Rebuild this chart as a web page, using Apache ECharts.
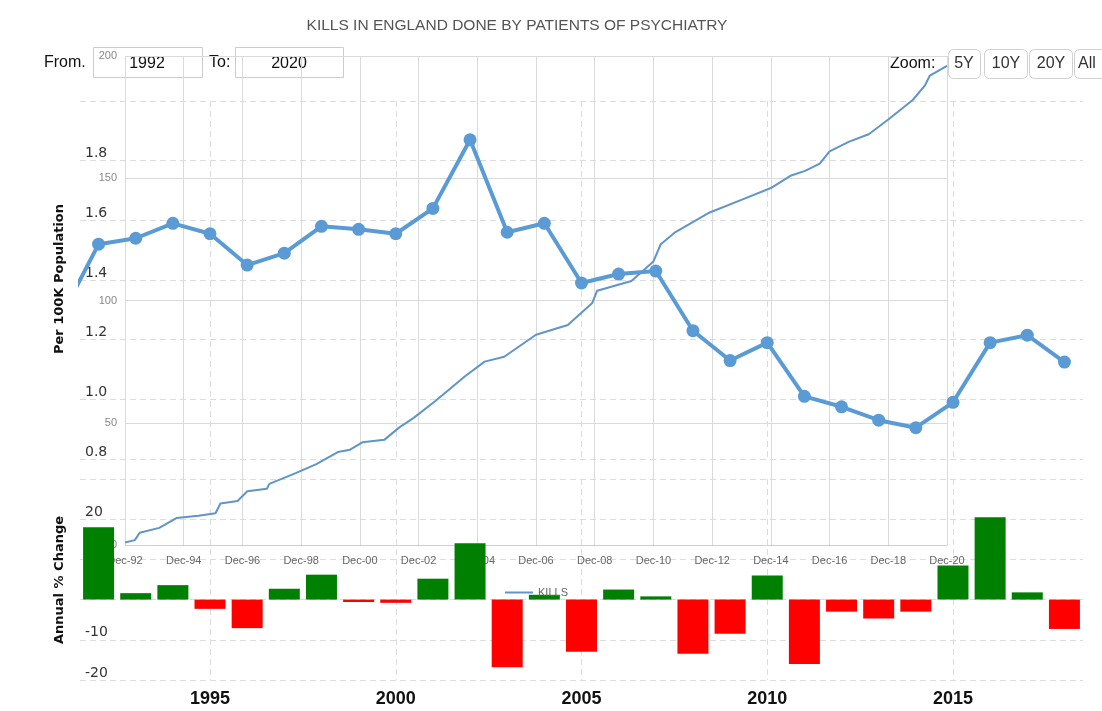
<!DOCTYPE html>
<html>
<head>
<meta charset="utf-8">
<script src="https://cdn.jsdelivr.net/npm/echarts@6/dist/echarts.min.js"></script>
<style>
html,body{margin:0;padding:0;background:#fff;}
#chart{width:1102px;height:711px;}
</style>
</head>
<body>
<div id="chart"></div>
<script>
// ---- Data ----
const rateYears = [1991,1992,1993,1994,1995,1996,1997,1998,1999,2000,2001,2002,2003,2004,2005,2006,2007,2008,2009,2010,2011,2012,2013,2014,2015,2016,2017,2018];
const per100k   = [1.28,1.52,1.54,1.59,1.555,1.45,1.49,1.58,1.57,1.555,1.64,1.87,1.56,1.59,1.39,1.42,1.43,1.23,1.13,1.19,1.01,0.975,0.93,0.905,0.99,1.19,1.215,1.125];

const changeYears  = [1992,1993,1994,1995,1996,1997,1998,1999,2000,2001,2002,2003,2004,2005,2006,2007,2008,2009,2010,2011,2012,2013,2014,2015,2016,2017,2018];
const annualChange = [18,1.6,3.6,-2.3,-7.1,2.7,6.2,-0.6,-0.8,5.2,14,-16.8,1.2,-13,2.5,0.8,-13.5,-8.5,6,-16,-3,-4.7,-3,8.5,20.5,1.8,-7.3];

const yearTicks = [1995,2000,2005,2010,2015];

const killDates  = ['1992-12','1993-04','1993-06','1994-02','1994-09','1995-06','1996-01','1996-03','1996-10','1997-02','1997-10','1997-11','1998-10','1999-06','2000-03','2000-08','2001-01','2001-10','2002-04','2002-10','2003-07','2004-07','2005-03','2005-11','2006-12','2008-01','2008-11','2009-01','2010-03','2010-12','2011-03','2011-09','2012-11','2014-02','2014-12','2015-08','2016-02','2016-08','2016-12','2017-08','2018-04','2018-12','2019-05','2019-10','2020-03','2020-05','2020-12'];
const killTotals = [1,2,5,7,11,12,13,17,18,22,23,25,29.5,33,38,39,42,43,48,52,59,69,75,77,86,90,99,104,108,116,123,128,136,142,146,151,153,156,161,165,168,174,178,182,188,192,196];

const decTickLabels = ['Dec-92','Dec-94','Dec-96','Dec-98','Dec-00','Dec-02','Dec-04','Dec-06','Dec-08','Dec-10','Dec-12','Dec-14','Dec-16','Dec-18','Dec-20'];

// months since Dec-1992
function monthIndex(d){ const p = d.split('-').map(Number); return (p[0]-1992)*12 + (p[1]-12); }

const rateData = rateYears.map((y,i)=>[y, per100k[i]]);
const barData = changeYears.map((y,i)=>({value:[y, annualChange[i]], itemStyle:{color: annualChange[i] >= 0 ? '#008000' : '#ff0000'}}));
const killData = killDates.map((d,i)=>[monthIndex(d), killTotals[i]]);

const dashed = {show:true, lineStyle:{color:'#dcdcdc', type:[6,4], width:1}};
const solid = {show:true, lineStyle:{color:'#dadada', type:'solid', width:1}};

const chart = echarts.init(document.getElementById('chart'), null, {renderer:'canvas'});
chart.setOption({
  animation:false,
  backgroundColor:'#fff',
  grid:[
    {left:80, right:19, top:101, height:358},
    {left:80, right:19, top:479, height:201},
    {left:125, width:822, top:56, height:489}
  ],
  xAxis:[
    {gridIndex:0, type:'value', min:1991.5, max:2018.5,
     axisLine:{show:false}, axisTick:{show:false, customValues:yearTicks},
     axisLabel:{show:false, customValues:yearTicks}, splitLine:dashed},
    {gridIndex:1, type:'value', min:1991.5, max:2018.5,
     axisLine:{show:false}, axisTick:{show:false, customValues:yearTicks},
     axisLabel:{customValues:yearTicks, color:'#111', fontSize:18, fontWeight:'bold', fontFamily:'Liberation Sans', margin:10,
       formatter:v=>String(v)},
     splitLine:dashed},
    {gridIndex:2, type:'value', min:0, max:336, interval:24,
     axisLine:{show:true, lineStyle:{color:'#cfcfcf'}}, axisTick:{show:false},
     axisLabel:{color:'#666', fontSize:11, fontFamily:'Liberation Sans', margin:10,
       formatter:v=>decTickLabels[Math.round(v/24)]},
     splitLine:solid}
  ],
  yAxis:[
    {gridIndex:0, type:'value', min:0.8, max:2.0, interval:0.2,
     axisLine:{show:false}, axisTick:{show:false},
     axisLabel:{inside:true, margin:5, showMaxLabel:false, verticalAlign:'bottom', color:'#333', fontSize:14, fontFamily:'DejaVu Sans',
       formatter:v=>v.toFixed(1)},
     splitLine:dashed},
    {gridIndex:1, type:'value', min:-20, max:30, interval:10,
     axisLine:{show:false}, axisTick:{show:false},
     axisLabel:{inside:true, margin:5, showMaxLabel:false, verticalAlign:'bottom', color:'#333', fontSize:14, fontFamily:'DejaVu Sans'},
     splitLine:dashed},
    {gridIndex:2, type:'value', min:0, max:200, interval:50,
     axisLine:{show:false}, axisTick:{show:false},
     axisLabel:{color:'#888', fontSize:11, fontFamily:'Liberation Sans', margin:8},
     splitLine:solid}
  ],
  legend:{data:[{name:'KILLS', icon:'rect'}], left:500, top:582, itemWidth:28, itemHeight:2, itemGap:6,
    textStyle:{color:'#666', fontSize:11, fontFamily:'Liberation Sans'}},
  series:[
    {name:'Annual % Change', type:'bar', xAxisIndex:1, yAxisIndex:1, barWidth:31, data:barData, z:2},
    {name:'KILLS', type:'line', xAxisIndex:2, yAxisIndex:2, data:killData, showSymbol:false, symbol:'none',
     lineStyle:{color:'#5f95c8', width:2}, itemStyle:{color:'#5f95c8'}, z:3},
    {name:'Per 100K', type:'line', xAxisIndex:0, yAxisIndex:0, data:rateData, symbol:'circle', symbolSize:13,
     lineStyle:{color:'#5b9bd5', width:4}, itemStyle:{color:'#5b9bd5'}, z:4}
  ],
  graphic:[
    {type:'text', style:{text:'KILLS IN ENGLAND DONE BY PATIENTS OF PSYCHIATRY', x:517, y:26, align:'center', verticalAlign:'middle', fill:'#555', font:'15.5px "Liberation Sans"'}},
    {type:'text', style:{text:'From.', x:44, y:63, verticalAlign:'middle', fill:'#111', font:'16px "Liberation Sans"'}},
    {type:'rect', shape:{x:93.5, y:47.5, width:109, height:30}, style:{fill:'none', stroke:'#cccccc', lineWidth:1}},
    {type:'text', style:{text:'1992', x:147, y:64, align:'center', verticalAlign:'middle', fill:'#111', font:'16px "Liberation Sans"'}},
    {type:'text', style:{text:'To:', x:209, y:63, verticalAlign:'middle', fill:'#111', font:'16px "Liberation Sans"'}},
    {type:'rect', shape:{x:235.5, y:47.5, width:108, height:30}, style:{fill:'none', stroke:'#cccccc', lineWidth:1}},
    {type:'text', style:{text:'2020', x:289, y:64, align:'center', verticalAlign:'middle', fill:'#111', font:'16px "Liberation Sans"'}},
    {type:'text', style:{text:'Zoom:', x:890, y:64, verticalAlign:'middle', fill:'#111', font:'16px "Liberation Sans"'}},
    {type:'rect', shape:{x:948.5, y:49.5, width:32, height:29, r:5}, style:{fill:'none', stroke:'#d0d0d0', lineWidth:1}},
    {type:'text', style:{text:'5Y', x:964, y:64, align:'center', verticalAlign:'middle', fill:'#333', font:'16px "Liberation Sans"'}},
    {type:'rect', shape:{x:984.5, y:49.5, width:43, height:29, r:5}, style:{fill:'none', stroke:'#d0d0d0', lineWidth:1}},
    {type:'text', style:{text:'10Y', x:1006, y:64, align:'center', verticalAlign:'middle', fill:'#333', font:'16px "Liberation Sans"'}},
    {type:'rect', shape:{x:1029.5, y:49.5, width:43, height:29, r:5}, style:{fill:'none', stroke:'#d0d0d0', lineWidth:1}},
    {type:'text', style:{text:'20Y', x:1051, y:64, align:'center', verticalAlign:'middle', fill:'#333', font:'16px "Liberation Sans"'}},
    {type:'rect', shape:{x:1074.5, y:49.5, width:36, height:29, r:5}, style:{fill:'none', stroke:'#d0d0d0', lineWidth:1}},
    {type:'text', style:{text:'All', x:1078, y:64, verticalAlign:'middle', fill:'#333', font:'16px "Liberation Sans"'}},
    {type:'text', x:60, y:279, rotation:Math.PI/2, style:{text:'Per 100K Population', x:0, y:0, align:'center', verticalAlign:'middle', fill:'#111', font:'bold 13px "DejaVu Sans"'}},
    {type:'text', x:60, y:580, rotation:Math.PI/2, style:{text:'Annual % Change', x:0, y:0, align:'center', verticalAlign:'middle', fill:'#111', font:'bold 13px "DejaVu Sans"'}}
  ]
});
</script>
</body>
</html>
